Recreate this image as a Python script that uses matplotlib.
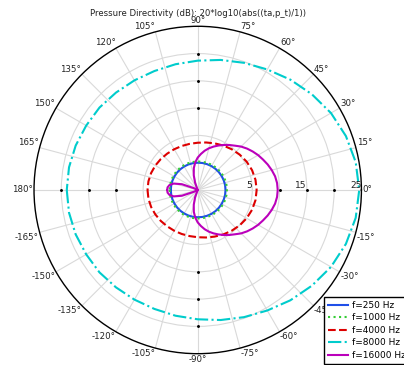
import numpy as np
import matplotlib
matplotlib.use('Agg')
import matplotlib.pyplot as plt

# Directivity in dB vs. angle (deg); patterns are symmetric about the 0-180 axis,
# so only 0..180 is listed and the other half is mirrored.
theta_deg = [0, 10, 20, 30, 40, 50, 60, 70, 80, 90,
             100, 110, 120, 130, 140, 150, 160, 170, 180]
p250 = [0.10, 0.10, 0.09, 0.08, 0.07, 0.06, 0.05, 0.03, 0.02, 0.00,
        -0.01, -0.02, -0.03, -0.04, -0.05, -0.06, -0.06, -0.07, -0.07]
p1000 = [0.35, 0.35, 0.34, 0.33, 0.32, 0.30, 0.28, 0.26, 0.24, 0.22,
         0.21, 0.20, 0.19, 0.18, 0.17, 0.16, 0.16, 0.15, 0.15]
p4000 = [5.80, 5.75, 5.60, 5.36, 5.06, 4.73, 4.40, 4.09, 3.84, 3.66,
         3.58, 3.58, 3.62, 3.70, 3.83, 3.97, 4.09, 4.17, 4.20]
p8000 = [24.6, 24.4, 23.9, 23.2, 22.3, 21.4, 20.5, 19.8, 19.2, 18.7,
         18.4, 18.2, 18.2, 18.3, 18.5, 18.6, 18.8, 18.95, 19.0]

theta16_deg = [0, 5, 10, 15, 20, 25, 30, 35, 40, 45, 50, 55, 60, 65, 70, 75, 80, 85, 90,
               95, 100, 105, 110, 115, 120, 125, 130, 135, 140, 145, 150, 155, 160,
               165, 170, 175, 180]
p16000 = [9.66, 9.60, 9.40, 9.05, 8.65, 8.20, 7.78, 7.30, 6.80, 6.25, 5.60, 5.07, 4.53,
          3.99, 3.46, 2.91, 2.30, 1.62, 0.94,
          0.10, -0.90, -2.20, -3.60, -5.0, -5.0, -5.0, -5.0, -5.0, -5.0, -5.0, -5.0,
          -4.20, -1.90, -0.45, 0.25, 0.55, 0.60]

freq_labels = ['f=250 Hz', 'f=1000 Hz', 'f=4000 Hz', 'f=8000 Hz', 'f=16000 Hz']
colors = ['#1f4fe8', '#33cc33', '#dd0000', '#00cccc', '#bb00bb']
styles = ['-', ':', '--', '-.', '-']

title = 'Pressure Directivity (dB): 20*log10(abs((ta,p_t)/1))'


def full_circle(ang, vals):
    ang = np.asarray(ang, float)
    vals = np.asarray(vals, float)
    th = np.concatenate([-ang[::-1], ang[1:]])
    return np.deg2rad(th), np.concatenate([vals[::-1], vals[1:]])


fig = plt.figure(figsize=(4.04, 3.65), dpi=100)
ax = fig.add_axes([0.0842, 0.031, 0.8104, 0.897], projection='polar')

series = [(theta_deg, p250), (theta_deg, p1000), (theta_deg, p4000),
          (theta_deg, p8000), (theta16_deg, p16000)]
for (ang, vals), lab, c, ls in zip(series, freq_labels, colors, styles):
    th, r = full_circle(ang, vals)
    ax.plot(th, r, color=c, ls=ls, lw=1.5, label=lab)

ax.set_rlim(-5, 25)
ax.set_rticks([0, 5, 10, 15, 20])
ax.set_yticklabels([])

tick_angles = np.arange(0, 360, 15)
ax.set_thetagrids(tick_angles, [''] * len(tick_angles))
ax.grid(color='#d9d9d9', lw=0.8)
ax.spines['polar'].set_color('black')
ax.spines['polar'].set_linewidth(1.0)

# angle labels hugging the outer circle
for a in tick_angles:
    rad = np.deg2rad(a)
    c, s = np.cos(rad), np.sin(rad)
    ha = 'left' if c > 0.1 else ('right' if c < -0.1 else 'center')
    va = 'bottom' if s > 0.1 else ('top' if s < -0.1 else 'center')
    txt = f'{a if a <= 180 else a - 360}\u00b0'
    ax.annotate(txt, xy=(rad, 25), xytext=(0.6 * c, 0.6 * s),
                textcoords='offset points', ha=ha, va=va, fontsize=6.2,
                color='#222222', annotation_clip=False)

# radial value labels along the 0 deg axis
for rv in (5, 15, 25):
    ax.text(0, rv, str(rv), ha='right', va='bottom', fontsize=6.5,
            color='#222222', clip_on=False)

# small tick dots on the main axes
dot_th = np.deg2rad(np.repeat([0, 90, 180, 270], 3))
dot_r = np.tile([10, 15, 20], 4)
ax.plot(dot_th, dot_r, 'k.', ms=2.2, ls='none')

fig.text(0.4894, 1 - 14 / 365, title, ha='center', va='center',
         fontsize=6.1, color='#222222')

leg = ax.legend(loc='upper left', bbox_to_anchor=(324 / 404, 1 - 297 / 365),
                bbox_transform=fig.transFigure, fontsize=6.5, fancybox=False,
                edgecolor='black', framealpha=1, borderpad=0.45, handlelength=2.2,
                handletextpad=0.4, labelspacing=0.38, borderaxespad=0)
leg.get_frame().set_linewidth(1.0)

fig.savefig('out.png', dpi=100)
